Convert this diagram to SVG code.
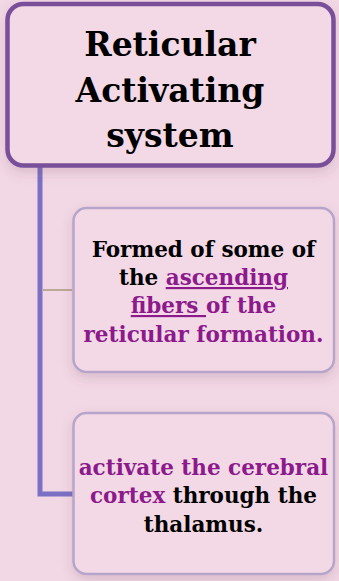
<svg xmlns="http://www.w3.org/2000/svg" width="339" height="581" viewBox="0 0 339 581">
<style>
.title{font-family:"DejaVu Serif","Liberation Serif",serif;font-weight:bold;font-size:33px;fill:#000;text-anchor:middle}
.body{font-family:"DejaVu Serif","Liberation Serif",serif;font-weight:bold;font-size:21.5px;fill:#000;text-anchor:middle}
.hl{fill:#8c1a8c}
.ul{text-decoration:underline}
.sub{fill:#f3d9e5;stroke:#b6a4ca;stroke-width:2.5}
</style>
<defs>
<filter id="sh" x="-20%" y="-20%" width="140%" height="140%">
<feDropShadow dx="0" dy="5" stdDeviation="6" flood-color="#6a3a5a" flood-opacity="0.18"/>
</filter>
</defs>
<rect width="339" height="581" fill="#f2d8e4"/>
<g id="connectors" fill="none">
<path d="M40 167 V494 H73" stroke="#7b70c4" stroke-width="5" stroke-linejoin="miter"/>
<line x1="43" y1="290" x2="72" y2="290" stroke="#a89a7e" stroke-width="1.5"/>
</g>
<g id="node-root">
<rect x="7.5" y="4" width="326" height="161.5" rx="16" fill="#f3d9e5" stroke="#7a4f9a" stroke-width="4.5" filter="url(#sh)"/>
<text class="title" x="170" y="56">Reticular</text>
<text class="title" x="170" y="102">Activating</text>
<text class="title" x="170" y="147">system</text>
</g>
<g id="node-fibers">
<rect class="sub" x="73.5" y="208" width="260.5" height="164" rx="13" filter="url(#sh)"/>
<text class="body" x="203.5" y="257">Formed of some of</text>
<text class="body" x="203.5" y="285">the <tspan class="hl ul">ascending</tspan></text>
<text class="body hl" x="203.5" y="313" xml:space="preserve"><tspan class="ul">fibers </tspan>of the</text>
<text class="body hl" x="203.5" y="342">reticular formation.</text>
</g>
<g id="node-cortex">
<rect class="sub" x="73.5" y="413" width="260.5" height="161" rx="13" filter="url(#sh)"/>
<text class="body" x="203.5" y="475"><tspan class="hl">activate the cerebral</tspan></text>
<text class="body" x="203.5" y="503"><tspan class="hl">cortex</tspan> through the</text>
<text class="body" x="203.5" y="532">thalamus.</text>
</g>
</svg>
